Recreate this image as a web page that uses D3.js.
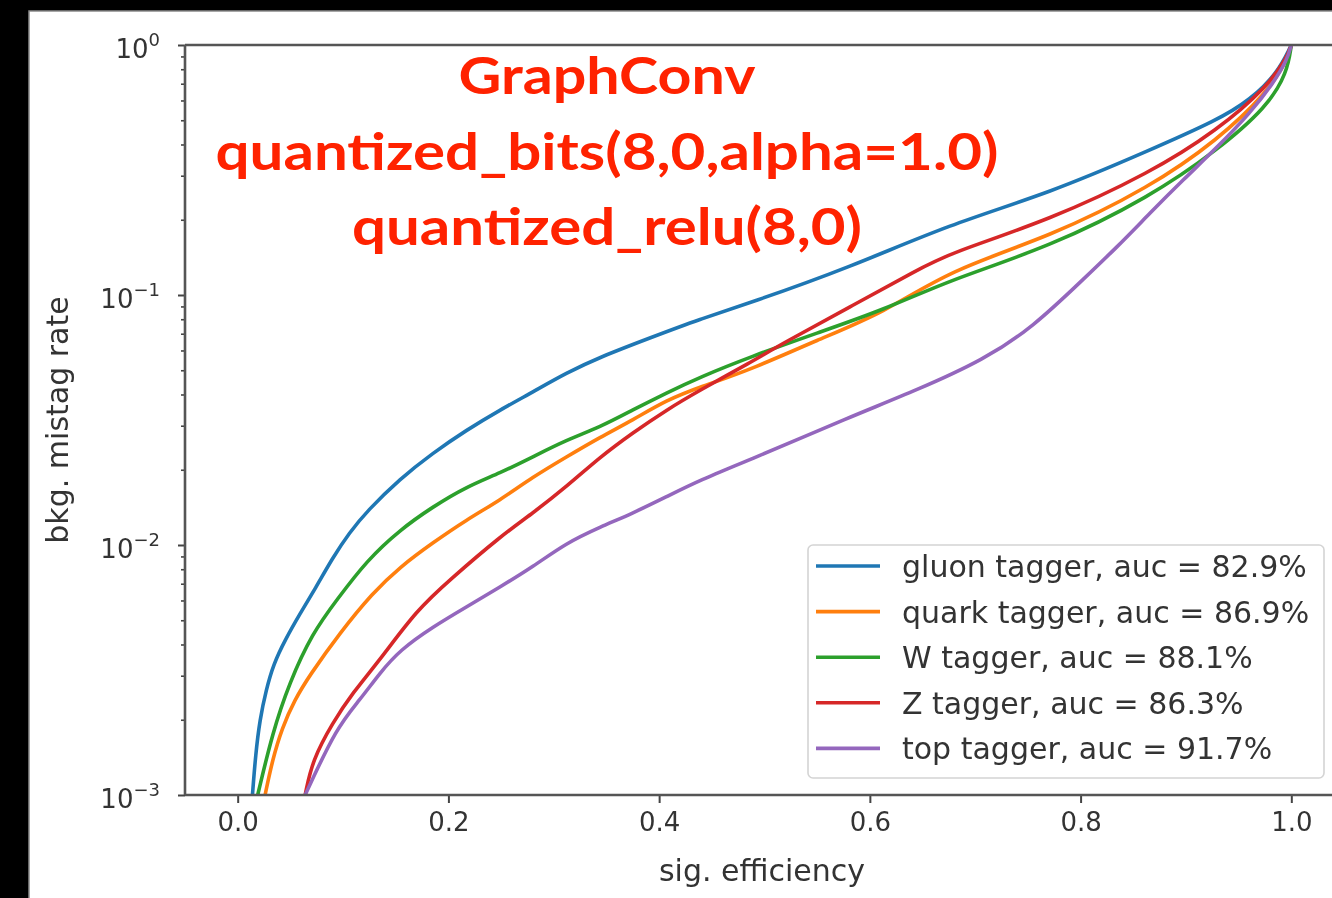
<!DOCTYPE html>
<html><head><meta charset="utf-8">
<script src="https://cdn.jsdelivr.net/npm/d3@7"></script>
<style>
html,body{margin:0;padding:0;background:#000;overflow:hidden;}
svg{display:block;filter:blur(0.7px);}
</style></head><body>
<svg id="c" width="1332" height="898"></svg>
<script>
// ---------------- data (sig. efficiency, bkg. mistag rate) ----------------
const seriesNames = ["gluon tagger, auc = 82.9%", "quark tagger, auc = 86.9%", "W tagger, auc = 88.1%", "Z tagger, auc = 86.3%", "top tagger, auc = 91.7%"];
const seriesColors = ["#1f77b4", "#ff7f0e", "#2ca02c", "#d62728", "#9467bd"];

const gluon = [[0.014,0.00100],[0.017,0.00145],[0.021,0.00200],[0.027,0.00263],[0.034,0.00334],[0.045,0.00417],[0.059,0.00530],[0.074,0.00673],[0.090,0.00887],[0.106,0.0112],[0.123,0.0137],[0.154,0.0184],[0.185,0.0233],[0.217,0.0288],[0.249,0.0347],[0.280,0.0409],[0.312,0.0488],[0.344,0.0565],[0.391,0.0673],[0.439,0.0802],[0.486,0.0929],[0.581,0.129],[0.676,0.192],[0.771,0.256],[0.866,0.380],[0.930,0.501],[0.961,0.603],[0.987,0.773],[1.0,1.0]];
const quark = [[0.026,0.00100],[0.033,0.00138],[0.042,0.00185],[0.054,0.00240],[0.068,0.00300],[0.097,0.00445],[0.128,0.00643],[0.154,0.00817],[0.185,0.0102],[0.217,0.0126],[0.249,0.0151],[0.280,0.0187],[0.312,0.0225],[0.344,0.0270],[0.375,0.0316],[0.407,0.0380],[0.439,0.0429],[0.486,0.0501],[0.550,0.0661],[0.613,0.0847],[0.676,0.126],[0.771,0.171],[0.866,0.270],[0.930,0.417],[0.977,0.643],[0.996,0.871],[1.0,1.0]];
const wTag = [[0.019,0.00100],[0.033,0.00177],[0.049,0.00281],[0.071,0.00445],[0.094,0.00603],[0.123,0.00871],[0.154,0.0115],[0.185,0.0142],[0.217,0.0171],[0.249,0.0194],[0.280,0.0225],[0.312,0.0263],[0.344,0.0296],[0.375,0.0347],[0.407,0.0406],[0.439,0.0470],[0.486,0.0565],[0.550,0.0705],[0.613,0.0871],[0.676,0.115],[0.771,0.156],[0.866,0.247],[0.930,0.380],[0.977,0.565],[0.996,0.773],[1.0,1.0]];
const zTag = [[0.064,0.00100],[0.071,0.00138],[0.090,0.00194],[0.109,0.00256],[0.135,0.00347],[0.170,0.00550],[0.201,0.00724],[0.249,0.0108],[0.280,0.0134],[0.312,0.0171],[0.344,0.0225],[0.375,0.0281],[0.407,0.0347],[0.439,0.0417],[0.486,0.0535],[0.518,0.0643],[0.581,0.0895],[0.645,0.126],[0.676,0.147],[0.771,0.200],[0.866,0.308],[0.930,0.457],[0.977,0.679],[0.996,0.895],[1.0,1.0]];
const topTag = [[0.064,0.00100],[0.094,0.00187],[0.116,0.00240],[0.135,0.00308],[0.154,0.00380],[0.185,0.00470],[0.217,0.00565],[0.249,0.00679],[0.280,0.00817],[0.312,0.0102],[0.344,0.0118],[0.375,0.0134],[0.407,0.0156],[0.439,0.0182],[0.486,0.0219],[0.581,0.0325],[0.645,0.0417],[0.708,0.0550],[0.755,0.0745],[0.802,0.115],[0.835,0.156],[0.866,0.213],[0.897,0.288],[0.930,0.391],[0.961,0.535],[0.983,0.705],[0.996,0.871],[1.0,1.0]];
const allSeries = [gluon, quark, wTag, zTag, topTag];

const xTickValues = [0.0, 0.2, 0.4, 0.6, 0.8, 1.0];
const yTickExponents = [0, -1, -2, -3];
const xLabel = "sig. efficiency";
const yLabel = "bkg. mistag rate";
const titleLines = ["GraphConv", "quantized_bits(8,0,alpha=1.0)", "quantized_relu(8,0)"];

// ---------------- layout ----------------
const W = 1332, H = 898;
const L = 185, T = 45, B = 795, R = 1344;
const svg = d3.select('#c');
svg.append('rect').attr('width', W).attr('height', H).attr('fill', '#000');
svg.append('rect').attr('x', 29).attr('y', 11).attr('width', W).attr('height', H)
  .attr('fill', '#fff').attr('stroke', '#8a8a8a').attr('stroke-width', 1.5);

const x = d3.scaleLinear().domain([-0.05, 1.05]).range([L, R]);
const y = d3.scaleLog().domain([1e-3, 1]).range([B, T]);

svg.append('clipPath').attr('id', 'clip').append('rect')
  .attr('x', L).attr('y', T).attr('width', R - L).attr('height', B - T);

const line = d3.line().x(d => x(d[0])).y(d => y(d[1])).curve(d3.curveBasis);
const gLines = svg.append('g').attr('clip-path', 'url(#clip)');
allSeries.forEach((s, i) => {
  gLines.append('path').attr('d', line(s)).attr('fill', 'none')
    .attr('stroke', seriesColors[i]).attr('stroke-width', 3.6)
    .attr('stroke-linejoin', 'round').attr('stroke-linecap', 'round');
});

// axes
const tickFont = "DejaVu Sans, sans-serif";
const txtColor = "#333";
const xAxis = d3.axisBottom(x).tickValues(xTickValues).tickFormat(d3.format('.1f'))
  .tickSize(8).tickSizeOuter(0).tickPadding(10);
const gx = svg.append('g').attr('transform', `translate(0,${B})`).call(xAxis);
gx.select('.domain').remove();
gx.selectAll('line').attr('stroke', '#444').attr('stroke-width', 2);
gx.selectAll('text').attr('font-family', tickFont).attr('font-size', 26).attr('fill', txtColor);

const majorY = yTickExponents.map(e => Math.pow(10, e));
const minorY = [];
[-3, -2, -1].forEach(e => { for (let k = 2; k <= 9; k++) minorY.push(k * Math.pow(10, e)); });
const gyMinor = svg.append('g').attr('transform', `translate(${L},0)`)
  .call(d3.axisLeft(y).tickValues(minorY).tickFormat('').tickSize(4).tickSizeOuter(0));
gyMinor.select('.domain').remove();
gyMinor.selectAll('line').attr('stroke', '#444').attr('stroke-width', 1.6);
const gy = svg.append('g').attr('transform', `translate(${L},0)`)
  .call(d3.axisLeft(y).tickValues(majorY).tickFormat('').tickSize(7).tickSizeOuter(0));
gy.select('.domain').remove();
gy.selectAll('line').attr('stroke', '#444').attr('stroke-width', 2);
gy.selectAll('.tick').each(function(d) {
  const e = Math.round(Math.log10(d));
  const t = d3.select(this).append('text').attr('x', -25).attr('y', 12)
    .attr('text-anchor', 'end').attr('font-family', tickFont).attr('font-size', 26).attr('fill', txtColor);
  t.append('tspan').text('10');
  t.append('tspan').attr('dy', -12).attr('font-size', 18).text(e === 0 ? '0' : '\u2212' + Math.abs(e));
});

// spines
const sp = svg.append('g').attr('stroke', '#555').attr('stroke-width', 2.6).attr('fill', 'none');
sp.append('line').attr('x1', L).attr('x2', L).attr('y1', T).attr('y2', B);
sp.append('line').attr('x1', L).attr('x2', R).attr('y1', T).attr('y2', T);
sp.append('line').attr('x1', L).attr('x2', R).attr('y1', B).attr('y2', B);

// axis labels
svg.append('text').attr('x', 762).attr('y', 881).attr('text-anchor', 'middle')
  .attr('font-family', tickFont).attr('font-size', 30).attr('fill', txtColor).text(xLabel);
svg.append('text').attr('transform', 'translate(68,420) rotate(-90)').attr('text-anchor', 'middle')
  .attr('font-family', tickFont).attr('font-size', 30).attr('fill', txtColor).text(yLabel);

// legend
const lg = svg.append('g');
lg.append('rect').attr('x', 808).attr('y', 545).attr('width', 516).attr('height', 233).attr('rx', 5)
  .attr('fill', '#fff').attr('fill-opacity', 0.85).attr('stroke', '#d4d4d4').attr('stroke-width', 1.6);
seriesNames.forEach((n, i) => {
  const yy = 566 + i * 45.6;
  lg.append('line').attr('x1', 816).attr('x2', 880).attr('y1', yy).attr('y2', yy)
    .attr('stroke', seriesColors[i]).attr('stroke-width', 3.6);
  lg.append('text').attr('x', 902).attr('y', yy + 11).attr('font-family', tickFont)
    .attr('font-size', 30).attr('fill', txtColor).text(n);
});

// title
const titleY = [94, 170, 245];
const titleW = [297, 783, 510];
titleLines.forEach((t, i) => {
  svg.append('text').attr('x', 607).attr('y', titleY[i]).attr('text-anchor', 'middle')
    .attr('font-family', 'Lato, sans-serif').attr('font-weight', 'bold').attr('font-size', 52)
    .attr('fill', '#ff2200').attr('textLength', titleW[i]).attr('lengthAdjust', 'spacingAndGlyphs').text(t);
});
</script>
</body></html>
